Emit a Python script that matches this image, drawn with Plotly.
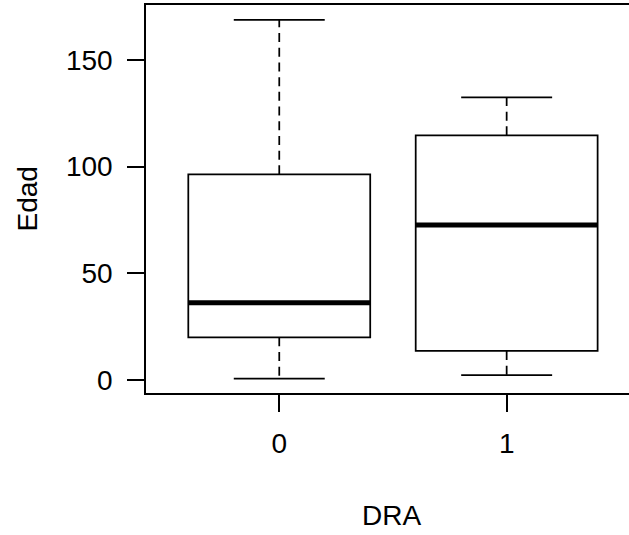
import plotly.graph_objects as go

# ---- data ----
groups = ["0", "1"]
positions = [1, 2]
q1 = [20.0, 13.6]
median = [36.2, 72.7]
q3 = [96.4, 114.7]
lower_whisker = [0.6, 2.3]
upper_whisker = [168.8, 132.5]
y_ticks = [0, 50, 100, 150]

BOX_W = 0.8
CAP_W = 0.4
FONT = "Liberation Sans, Arial, sans-serif"
FS = 28
LW = 1.75

fig = go.Figure()

# boxes (whiskers drawn separately so they can be dashed)
fig.add_trace(go.Box(
    x=positions, q1=q1, median=median, q3=q3,
    lowerfence=q1, upperfence=q3,
    width=BOX_W, whiskerwidth=0,
    fillcolor="white", line=dict(color="black", width=LW),
    hoverinfo="skip", showlegend=False, boxpoints=False,
))

# dashed whiskers
wx, wy = [], []
for p, a, b, lo, hi in zip(positions, q1, q3, lower_whisker, upper_whisker):
    wx += [p, p, None, p, p, None]
    wy += [b, hi, None, a, lo, None]
fig.add_trace(go.Scatter(x=wx, y=wy, mode="lines",
                         line=dict(color="black", width=LW, dash="9px,5.7px"),
                         hoverinfo="skip", showlegend=False))

# staples
cx, cy = [], []
for p, lo, hi in zip(positions, lower_whisker, upper_whisker):
    cx += [p - CAP_W / 2, p + CAP_W / 2, None, p - CAP_W / 2, p + CAP_W / 2, None]
    cy += [hi, hi, None, lo, lo, None]
fig.add_trace(go.Scatter(x=cx, y=cy, mode="lines",
                         line=dict(color="black", width=LW),
                         hoverinfo="skip", showlegend=False))

# thick medians
mx, my = [], []
for p, m in zip(positions, median):
    mx += [p - BOX_W / 2, p + BOX_W / 2, None]
    my += [m, m, None]
fig.add_trace(go.Scatter(x=mx, y=my, mode="lines",
                         line=dict(color="black", width=5),
                         hoverinfo="skip", showlegend=False))

fig.update_layout(
    width=629, height=535,
    margin=dict(l=146, r=0, t=5, b=142),
    paper_bgcolor="white", plot_bgcolor="white",
    font=dict(family=FONT, size=FS, color="black"),
    showlegend=False,
    xaxis=dict(
        range=[0.414, 2.538], tickmode="array", tickvals=positions, ticktext=groups,
        ticks="outside", ticklen=17, tickwidth=LW, tickcolor="black",
        showline=True, linecolor="black", linewidth=LW, mirror=True,
        showgrid=False, zeroline=False, ticklabelstandoff=8,
        tickfont=dict(family=FONT, size=FS, color="black"),
    ),
    yaxis=dict(
        range=[-6.1, 175.8], tickmode="array", tickvals=y_ticks,
        ticktext=[str(v) for v in y_ticks],
        ticks="outside", ticklen=17, tickwidth=LW, tickcolor="black",
        showline=True, linecolor="black", linewidth=LW, mirror=False,
        showgrid=False, zeroline=False, ticklabelstandoff=9,
        tickfont=dict(family=FONT, size=FS, color="black"),
    ),
    annotations=[
        dict(text="DRA", xref="paper", yref="paper", x=0.509, y=0,
             xanchor="center", yanchor="middle", yshift=-122, showarrow=False,
             font=dict(family=FONT, size=FS, color="black")),
        dict(text="Edad", xref="paper", yref="paper", x=0, y=0.5,
             xanchor="center", yanchor="middle", xshift=-119.5, textangle=-90,
             showarrow=False, font=dict(family=FONT, size=FS, color="black")),
    ],
)

fig.write_html("out.html",
               config={"displayModeBar": False, "staticPlot": True},
               post_script="document.body.style.margin='0px';document.body.style.overflow='hidden';")
